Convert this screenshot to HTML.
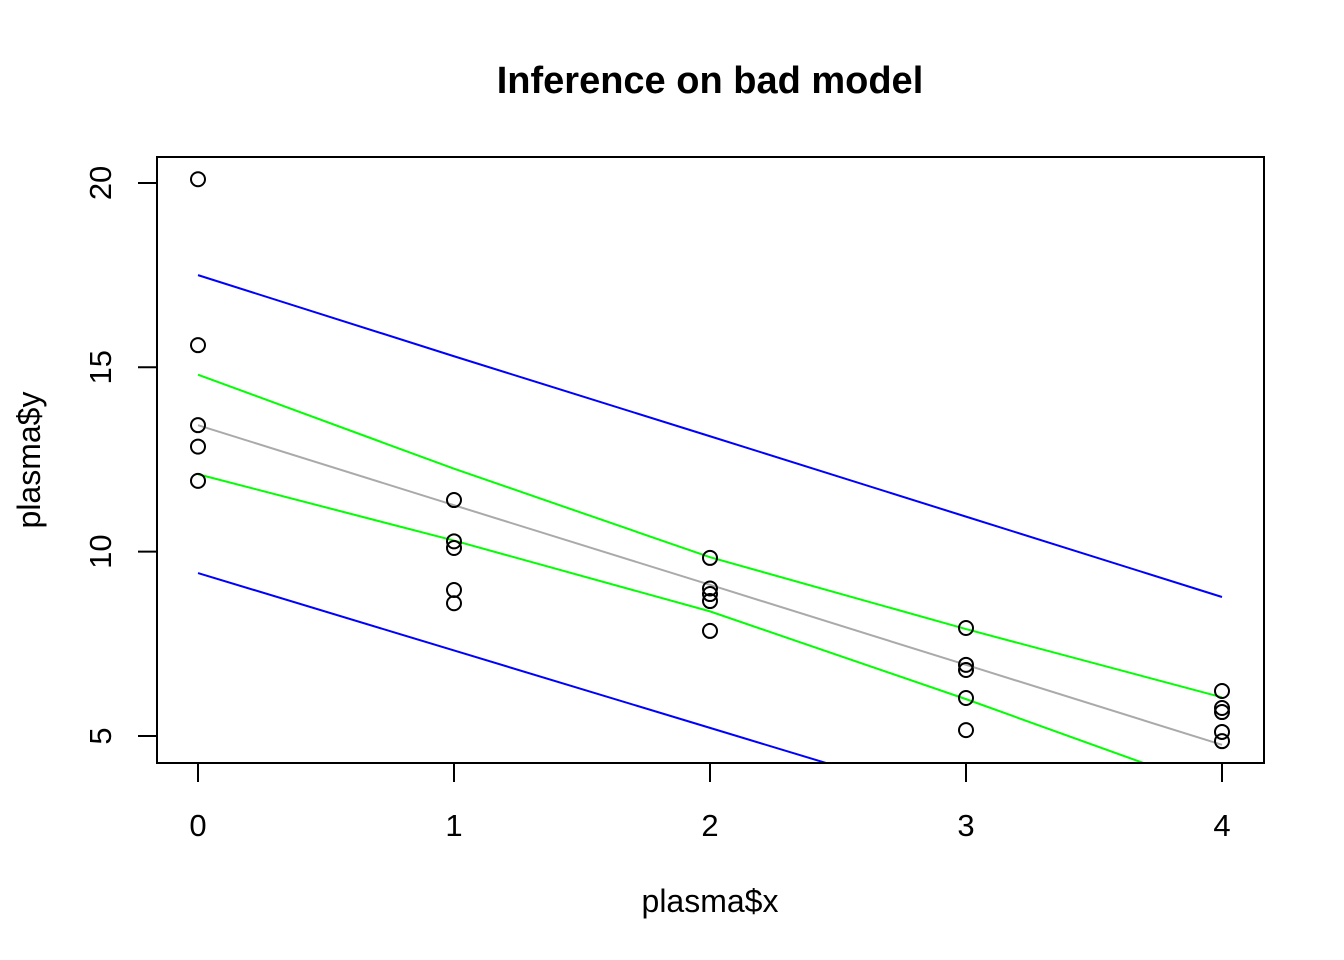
<!DOCTYPE html>
<html><head><meta charset="utf-8"><style>body{margin:0;background:#fff}svg{display:block;font-family:"Liberation Sans",Arial,sans-serif}</style></head>
<body>
<svg id="c" width="1344" height="960">
<text x="710" y="93" text-anchor="middle" font-size="38" font-weight="bold">Inference on bad model</text>
<text x="710" y="912" text-anchor="middle" font-size="32">plasma$x</text>
<text transform="translate(40,460) rotate(-90)" text-anchor="middle" font-size="32">plasma$y</text>
<defs><clipPath id="pc"><rect x="157" y="157" width="1107" height="606"/></clipPath></defs>
<g id="lines" clip-path="url(#pc)"></g>
<g id="pts"></g>
<g id="axes"></g>
<rect x="157" y="157" width="1107" height="606" fill="none" stroke="#000" stroke-width="2"/>
</svg>
<script>
const ptX=[0,0,0,0,0,1,1,1,1,1,2,2,2,2,2,3,3,3,3,3,4,4,4,4,4];
const ptY=[20.1,15.6,13.43,12.85,11.92,11.4,10.28,10.1,8.96,8.6,9.83,9.0,8.85,8.66,7.85,7.93,6.93,6.79,6.03,5.16,6.22,5.76,5.65,5.11,4.86];
const lineX=[0,1,2,3,4];
const fitY=[13.43,11.26,9.1,6.93,4.76];
const confUpper=[14.8,12.25,9.85,7.9,6.05];
const confLower=[12.1,10.3,8.38,6.0,3.5];
const predUpper=[17.5,15.3,13.13,10.95,8.77];
const predLower=[9.42,7.32,5.22,3.12,1.02];
const xTicks=[0,1,2,3,4];
const yTicks=[5,10,15,20];
const sx=v=>198+256*v, sy=v=>736-(v-5)*36.87;
const NS="http://www.w3.org/2000/svg";
function mk(t,a,p){const e=document.createElementNS(NS,t);for(const k in a)e.setAttribute(k,a[k]);p.appendChild(e);return e;}
const L=document.getElementById('lines'),P=document.getElementById('pts'),A=document.getElementById('axes');
const series=[[predUpper,'#0000ff','pred-upper-line'],[predLower,'#0000ff','pred-lower-line'],[confUpper,'#00ff00','conf-upper-line'],[confLower,'#00ff00','conf-lower-line'],[fitY,'#aaaaaa','fit-line']];
series.forEach(s=>{
 const e=mk('polyline',{points:lineX.map((x,i)=>sx(x)+','+sy(s[0][i])).join(' '),fill:'none',stroke:s[1],'stroke-width':2},L);
 
 
});
ptX.forEach((x,i)=>{
 const e=mk('circle',{cx:sx(x),cy:sy(ptY[i]),r:7,fill:'none',stroke:'#000','stroke-width':2},P);
 
 
});
mk('line',{x1:sx(0),x2:sx(4),y1:763,y2:763,stroke:'#000','stroke-width':2},A);
xTicks.forEach(v=>{
 mk('line',{x1:sx(v),x2:sx(v),y1:763,y2:782,stroke:'#000','stroke-width':2},A);
 const t=mk('text',{x:sx(v),y:836,'text-anchor':'middle','font-size':31},A);t.textContent=v;
 
 
});
mk('line',{x1:157,x2:157,y1:sy(5),y2:sy(20),stroke:'#000','stroke-width':2},A);
yTicks.forEach(v=>{
 mk('line',{x1:138,x2:157,y1:sy(v),y2:sy(v),stroke:'#000','stroke-width':2},A);
 const t=mk('text',{transform:`translate(111,${sy(v)}) rotate(-90)`,'text-anchor':'middle','font-size':31},A);t.textContent=v;
 
 
});
</script>
</body></html>
